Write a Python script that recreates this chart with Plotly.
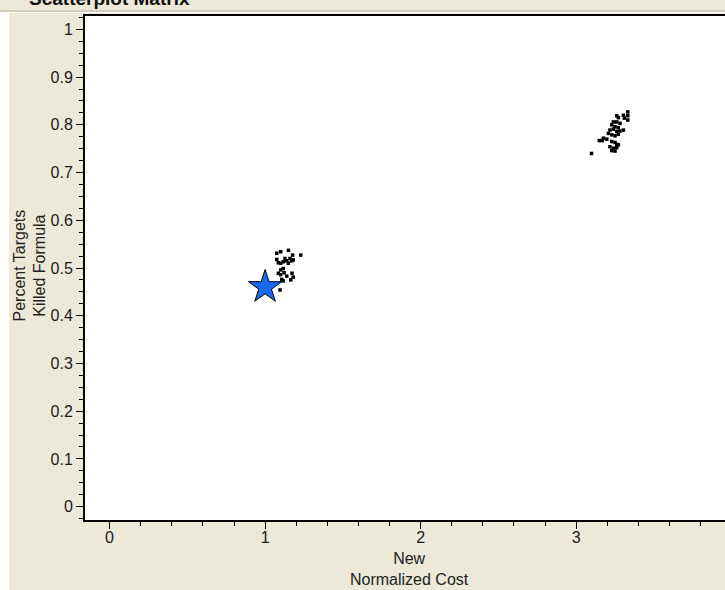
import plotly.graph_objects as go

# Design runs: normalized cost vs. percent of targets killed
cost_low = [1.075, 1.100, 1.150, 1.177, 1.229, 1.075, 1.085, 1.100, 1.117, 1.128,
            1.139, 1.160, 1.171, 1.181, 1.149, 1.117, 1.100, 1.085, 1.100, 1.122,
            1.139, 1.173, 1.181, 1.107, 1.117, 1.165, 1.096]
kill_low = [0.531, 0.534, 0.537, 0.527, 0.527, 0.518, 0.511, 0.510, 0.513, 0.520,
            0.515, 0.520, 0.515, 0.517, 0.510, 0.499, 0.496, 0.489, 0.486, 0.490,
            0.483, 0.489, 0.481, 0.476, 0.473, 0.475, 0.454]

cost_high = [3.332, 3.332, 3.332, 3.304, 3.310, 3.261, 3.271, 3.239, 3.261, 3.282,
             3.229, 3.250, 3.271, 3.217, 3.239, 3.261, 3.282, 3.304, 3.207, 3.229,
             3.250, 3.271, 3.175, 3.197, 3.149, 3.167, 3.229, 3.250, 3.261, 3.217,
             3.239, 3.261, 3.271, 3.229, 3.250, 3.099]
kill_high = [0.827, 0.819, 0.810, 0.820, 0.814, 0.819, 0.815, 0.806, 0.806, 0.803,
             0.800, 0.796, 0.794, 0.789, 0.791, 0.786, 0.787, 0.789, 0.782, 0.779,
             0.777, 0.780, 0.772, 0.770, 0.767, 0.767, 0.765, 0.763, 0.759, 0.754,
             0.751, 0.752, 0.758, 0.746, 0.745, 0.740]

# Baseline design (highlighted)
base_cost = [1.0]
base_kill = [0.46]

BEIGE = "#ECE9D8"
FONT = "Arial"
TICK_FONT = dict(family=FONT, size=16, color="#1a1a1a")

fig = go.Figure()
fig.add_trace(go.Scatter(
    x=cost_low + cost_high, y=kill_low + kill_high, mode="markers",
    marker=dict(symbol="square", size=3.5, color="black", line=dict(width=0)),
    showlegend=False, hoverinfo="x+y"))
fig.add_trace(go.Scatter(
    x=base_cost, y=base_kill, mode="markers",
    marker=dict(symbol="star", size=25, color="#1A6BEB",
                line=dict(color="black", width=1)),
    showlegend=False))

W, H = 725, 590
ML, MR, MT, MB = 85, 0, 16, 70
PW, PH = W - ML - MR, H - MT - MB


def px_x(p):
    return (p - ML) / PW


def px_y(p):
    return (H - MB - p) / PH


fig.add_annotation(text="Percent Targets<br>Killed Formula", textangle=-90,
                   xref="paper", yref="paper", x=px_x(29), y=px_y(265.5),
                   xanchor="center", yanchor="middle", showarrow=False,
                   font=dict(family=FONT, size=16, color="#222"))
fig.add_annotation(text="New<br>Normalized Cost",
                   xref="paper", yref="paper", x=px_x(409), y=px_y(568.5),
                   xanchor="center", yanchor="middle", showarrow=False,
                   font=dict(family=FONT, size=16, color="#222"))
fig.add_annotation(text="<b>Scatterplot Matrix</b>",
                   xref="paper", yref="paper", x=px_x(27), y=px_y(11),
                   xanchor="left", yanchor="bottom", showarrow=False,
                   font=dict(family=FONT, size=19, color="#111"))

# White strip on the far left, header separator line
fig.add_shape(type="rect", xref="paper", yref="paper",
              x0=px_x(0), x1=px_x(9), y0=px_y(H), y1=px_y(12),
              fillcolor="white", line=dict(width=0), layer="below")
fig.add_shape(type="line", xref="paper", yref="paper",
              x0=px_x(0), x1=px_x(W), y0=px_y(11), y1=px_y(11),
              line=dict(color="#B8B4A4", width=1))
fig.add_shape(type="line", xref="paper", yref="paper",
              x0=px_x(9), x1=px_x(W), y0=px_y(12.5), y1=px_y(12.5),
              line=dict(color="white", width=1))

fig.update_layout(
    width=W, height=H, margin=dict(l=ML, r=MR, t=MT, b=MB, pad=0),
    paper_bgcolor=BEIGE, plot_bgcolor="white",
    font=dict(family=FONT, size=16, color="#222"),
    xaxis=dict(
        range=[-0.158, 3.957], dtick=1, tick0=0, mirror=True,
        showgrid=False, zeroline=False, showline=True, linecolor="black",
        linewidth=2, ticks="outside", ticklen=7, tickwidth=1, tickcolor="black",
        tickfont=TICK_FONT, ticklabelstandoff=-5,
        minor=dict(dtick=0.2, tick0=0, ticks="outside", ticklen=4,
                   tickcolor="black"),
    ),
    yaxis=dict(
        range=[-0.028, 1.028], dtick=0.1, tick0=0,
        showgrid=False, zeroline=False, showline=True, linecolor="black",
        linewidth=2, ticks="outside", ticklen=7, tickwidth=1, tickcolor="black",
        tickfont=TICK_FONT,
        minor=dict(dtick=0.025, tick0=0, ticks="outside", ticklen=4,
                   tickcolor="black"),
    ),
)

fig.write_html("out.html", config={"displayModeBar": False})
